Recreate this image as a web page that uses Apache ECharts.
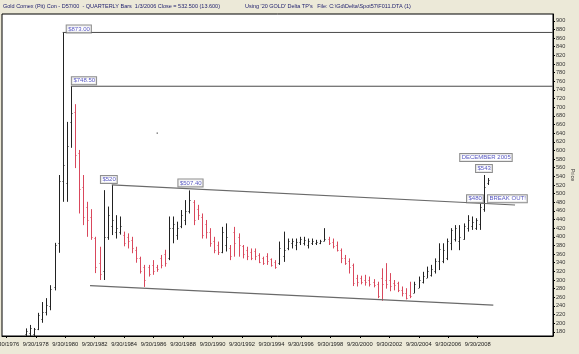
<!DOCTYPE html>
<html><head><meta charset="utf-8">
<script src="https://cdn.jsdelivr.net/npm/echarts@6/dist/echarts.min.js"></script>
<style>html,body{margin:0;padding:0;background:#ECE9D8;}#c{width:579px;height:354px;}</style>
</head><body><div id="c"></div>
<script>
// ---- data ----
const quarters = ["1977Q4","1978Q1","1978Q2","1978Q3","1978Q4","1979Q1","1979Q2","1979Q3","1979Q4",
"1980Q1","1980Q2","1980Q3","1980Q4","1981Q1","1981Q2","1981Q3","1981Q4","1982Q1","1982Q2","1982Q3","1982Q4",
"1983Q1","1983Q2","1983Q3","1983Q4","1984Q1","1984Q2","1984Q3","1984Q4","1985Q1","1985Q2","1985Q3","1985Q4",
"1986Q1","1986Q2","1986Q3","1986Q4","1987Q1","1987Q2","1987Q3","1987Q4","1988Q1","1988Q2","1988Q3","1988Q4",
"1989Q1","1989Q2","1989Q3","1989Q4","1990Q1","1990Q2","1990Q3","1990Q4","1991Q1","1991Q2","1991Q3","1991Q4",
"1992Q1","1992Q2","1992Q3","1992Q4","1993Q1","1993Q2","1993Q3","1993Q4","1994Q1","1994Q2","1994Q3","1994Q4",
"1995Q1","1995Q2","1995Q3","1995Q4","1996Q1","1996Q2","1996Q3","1996Q4","1997Q1","1997Q2","1997Q3","1997Q4",
"1998Q1","1998Q2","1998Q3","1998Q4","1999Q1","1999Q2","1999Q3","1999Q4","2000Q1","2000Q2","2000Q3","2000Q4",
"2001Q1","2001Q2","2001Q3","2001Q4","2002Q1","2002Q2","2002Q3","2002Q4","2003Q1","2003Q2","2003Q3","2003Q4",
"2004Q1","2004Q2","2004Q3","2004Q4","2005Q1","2005Q2","2005Q3","2005Q4","2006Q1"];
const opens = [175,178,176,186,210,226,240,284,385,
530,524,666,690,595,515,470,445,398,340,320,400,
425,410,412,405,400,393,370,350,330,330,335,330,
350,360,350,420,405,425,440,460,480,465,445,430,
410,390,380,365,380,375,410,400,378,370,365,368,
358,350,356,348,342,340,355,375,385,380,388,386,
380,386,385,385,390,395,388,382,370,352,345,335,
305,305,300,300,296,290,305,300,300,292,292,278,
270,266,270,282,295,305,312,320,345,345,350,385,
395,390,395,420,425,420,430,465,524];
const highs = [188,196,189,224,249,258,288,386,543,
873,666,748.5,707,601,543,481,464,400,377,508,470,
520,450,447,412,408,400,377,354,335,335,346,335,
358,370,447,447,435,462,485,507.4,485,474,454,439,
420,400,389,423,431,381,423,408,381,377,373,373,
362,354,362,350,346,389,412,396,396,396,400,400,
396,396,393,393,420,400,396,389,373,358,350,338,
312,310,312,308,302,296,327,339,316,300,296,285,
281,296,296,308,319,331,335,350,385,385,396,420,
427,427,431,450,447,443,477,543,536];
const lows = [168,170,170,184,201,218,230,276,363,
481,481,606,559,454,427,400,393,316,300,300,393,
404,396,405,378,373,362,340,315,284,308,312,319,
327,331,346,385,393,420,427,454,427,439,396,396,
377,362,358,362,366,346,354,354,350,346,346,346,
339,335,335,331,326,335,342,369,373,369,381,380,
373,381,381,383,389,381,373,366,339,335,315,286,
285,290,287,285,283,258,252,280,274,276,272,262,
255,258,269,281,292,304,308,315,323,339,346,369,
389,369,393,412,416,416,416,458,520];
const closes = [183,190,186,218,226,242,280,380,530,
566,610,686,590,510,445,440,400,330,315,400,450,
440,420,425,385,390,375,350,320,300,315,320,325,
335,340,420,430,420,450,460,485,440,450,405,410,
385,370,365,410,400,355,385,380,360,355,352,355,
342,340,345,335,330,375,370,390,390,388,395,392,
390,390,388,390,395,385,378,370,350,340,330,292,
295,296,295,290,288,262,290,290,285,288,276,270,
258,262,290,300,310,320,325,345,372,370,390,415,
420,400,425,440,435,438,470,515,532.5];
const priceTicks = [180,200,220,240,260,280,300,320,340,360,380,400,420,440,460,480,500,520,540,560,580,600,620,640,660,680,700,720,740,760,780,800,820,840,860,880,900];
const dateTickYears = [1976,1978,1980,1982,1984,1986,1988,1990,1992,1994,1996,1998,2000,2002,2004,2006,2008];
const dateTickLabels = ["9/30/1976","9/30/1978","9/30/1980","9/30/1982","9/30/1984","9/30/1986","9/30/1988","9/30/1990","9/30/1992","9/30/1994","9/30/1996","9/30/1998","9/30/2000","9/30/2002","9/30/2004","9/30/2006","9/30/2008"];
const levelPrices = [873, 748.5];
const levelFrom = ["1980Q1", "1980Q3"];
const upperTrendDates = [1983.0, 2007.65];
const upperTrendPrices = [520, 473.6];
const lowerTrendDates = [1981.67, 2006.32];
const lowerTrendPrices = [286.8, 242];
const strayDotDate = [1985.78];
const strayDotPrice = [640];
const noteTexts = ["$873.00", "$748.50", "$520", "$507.40", "$480", "BREAK OUT!", "$543", "DECEMBER 2005"];
const noteQuarters = ["1980Q1", "1980Q3", "1983Q1", "1987Q4", "2005Q3", "2005Q4", "2005Q4", "2005Q4"];
const notePrices = [873, 748.5, 520, 507.4, 480, 480, 543, 543];
const titleLeft = "Gold Comex (Pit) Con - D57/00  - QUARTERLY Bars  1/3/2006 Close = 532.500 (13.600)";
const titleRight = "Using '20 GOLD' Delta TP's   File: C:\\Gd\\Delta\\Spot57\\F011.DTA (1)";
const axisName = "Price";

// ---- build ----
function qx(q){ const y = +q.slice(0,4), n = +q.slice(5); return y + (n-1)/4; }
const FONT = '"Liberation Sans", Arial, sans-serif';
const BAR_MIN = 1976.29, BAR_MAX = 2009.97;
const LBL_MIN = 1976.458, LBL_MAX = 2013.86;
const ohlc = quarters.map((q,i)=>[qx(q), opens[i], highs[i], lows[i], closes[i]]);
const RED = '#d9485c', BLK = '#222222';

const notePlace = {
 "$873.00": {align:'left', verticalAlign:'bottom', offset:[4,0]},
 "$748.50": {align:'left', verticalAlign:'bottom', offset:[1,-2]},
 "$520": {align:'right', verticalAlign:'bottom', offset:[5,-2]},
 "$507.40": {align:'center', verticalAlign:'bottom', offset:[1,-4]},
 "$480": {align:'right', verticalAlign:'bottom', offset:[3,0]},
 "BREAK OUT!": {align:'left', verticalAlign:'bottom', offset:[4,0]},
 "$543": {align:'center', verticalAlign:'bottom', offset:[0,-3]},
 "DECEMBER 2005": {align:'center', verticalAlign:'bottom', offset:[2,-14]}
};

const chart = echarts.init(document.getElementById('c'), null, {renderer:'canvas'});
const series = [
 {
  type:'custom', xAxisIndex:1, yAxisIndex:0, clip:true, silent:true,
  data: ohlc,
  renderItem(params, api){
    const x = api.value(0), o = api.value(1), h = api.value(2), l = api.value(3), c = api.value(4);
    const pH = api.coord([x,h]), pL = api.coord([x,l]), pO = api.coord([x,o]), pC = api.coord([x,c]);
    const col = c >= o ? BLK : RED;
    const px = Math.round(pH[0]) + 0.5;
    const yo = Math.round(pO[1]) + 0.5, yc = Math.round(pC[1]) + 0.5;
    return {type:'group', children:[
      {type:'line', shape:{x1:px, y1:pH[1], x2:px, y2:pL[1]}, style:{stroke:col, lineWidth:1}},
      {type:'line', shape:{x1:px-1, y1:yo, x2:px-0.5, y2:yo}, style:{stroke:col, lineWidth:1}},
      {type:'line', shape:{x1:px+0.5, y1:yc, x2:px+1, y2:yc}, style:{stroke:col, lineWidth:1}}
    ]};
  }
 }
];
levelPrices.forEach((p,i)=>{
  series.push({type:'line', xAxisIndex:1, yAxisIndex:0, symbol:'none', silent:true,
    lineStyle:{color:'#4a4a4a', width:1}, data:[[qx(levelFrom[i]), p],[BAR_MAX, p]]});
});
series.push({type:'line', xAxisIndex:1, yAxisIndex:0, symbol:'none', silent:true,
  lineStyle:{color:'#6a6a6a', width:1.2}, data: upperTrendDates.map((d,i)=>[d, upperTrendPrices[i]])});
series.push({type:'line', xAxisIndex:1, yAxisIndex:0, symbol:'none', silent:true,
  lineStyle:{color:'#6a6a6a', width:1.2}, data: lowerTrendDates.map((d,i)=>[d, lowerTrendPrices[i]])});
series.push({type:'scatter', xAxisIndex:1, yAxisIndex:0, silent:true, symbol:'rect', symbolSize:1.3,
  itemStyle:{color:'#333'}, data: strayDotDate.map((d,i)=>[d, strayDotPrice[i]])});
series.push({type:'scatter', xAxisIndex:1, yAxisIndex:0, silent:true, symbolSize:1,
  itemStyle:{color:'rgba(0,0,0,0)'}, z:10,
  data: noteTexts.map((t,i)=>({value:[qx(noteQuarters[i]), notePrices[i]],
    label:Object.assign({show:true, position:'inside', formatter:t, fontFamily:FONT, fontSize:6, lineHeight:7,
      color:'#2a2ab0', backgroundColor:'#fff', borderColor:'#707070', borderWidth:1, padding:[0,1,0,1.5]}, notePlace[t])}))
});

chart.setOption({
  animation:false,
  backgroundColor:'#ECE9D8',
  grid:{left:2, top:14, width:551, height:322, outerBoundsMode:'none', containLabel:false,
        show:true, backgroundColor:'#fff', borderColor:'#000', borderWidth:1},
  xAxis:[
    {type:'value', min:LBL_MIN, max:LBL_MAX, position:'bottom',
     axisLine:{show:true, lineStyle:{color:'#000'}}, splitLine:{show:false},
     axisTick:{show:true, customValues: dateTickYears.map(y=>y+0.75), length:2, lineStyle:{color:'#000'}},
     axisLabel:{customValues: dateTickYears.map(y=>y+0.75), margin:5, fontSize:5.8, fontFamily:FONT, color:'#222',
       hideOverlap:false,
       formatter:(v)=>{ const i = dateTickYears.findIndex(y=>Math.abs(y+0.75-v)<1e-6); return i>=0?dateTickLabels[i]:''; }}},
    {type:'value', min:BAR_MIN, max:BAR_MAX, show:false}
  ],
  yAxis:[{type:'value', position:'right', min:170.4, max:915.7,
    axisLine:{show:true, lineStyle:{color:'#000'}}, splitLine:{show:false},
    axisTick:{show:true, customValues: priceTicks, length:2, lineStyle:{color:'#000'}},
    axisLabel:{customValues: priceTicks, margin:3, fontSize:5.6, fontFamily:FONT, color:'#333'}}],
  graphic:[
    {type:'text', left:3, top:3, style:{text:titleLeft, font:'5.5px '+FONT, fill:'#1c1c6c'}},
    {type:'text', left:245, top:3, style:{text:titleRight, font:'5.5px '+FONT, fill:'#1c1c6c'}},
    {type:'text', x:573, y:175, rotation:-Math.PI/2,
     style:{text:axisName, font:'5.6px '+FONT, fill:'#333', align:'center', verticalAlign:'middle'}}
  ],
  series
});
</script></body></html>
